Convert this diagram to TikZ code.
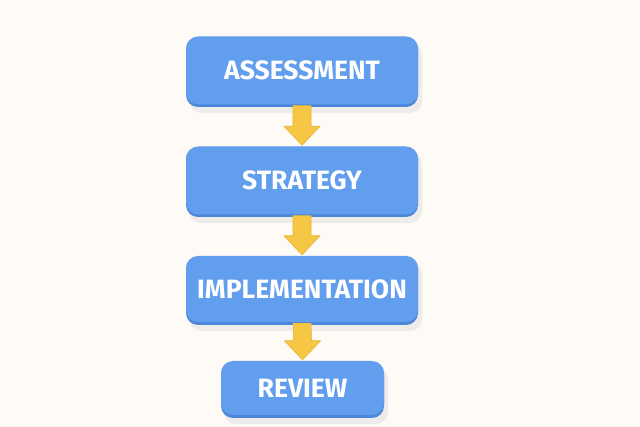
\documentclass[tikz,border=0pt]{standalone}
\usepackage{fontspec}
\setmainfont{Fira Sans}
\usetikzlibrary{calc}
\definecolor{bg}{HTML}{FEFAF6}
\definecolor{boxblue}{HTML}{629EEE}
\definecolor{boxedge}{HTML}{4B86D8}
\definecolor{arrowy}{HTML}{F6C744}
\definecolor{arrowd}{HTML}{E9B232}
\begin{document}
\begin{tikzpicture}[x=1pt,y=-1pt,
  stepbox/.style={fill=boxblue, rounded corners=12pt, inner sep=0pt, text=white,
     font=\fontsize{26.5}{26.5}\selectfont\bfseries},
  flowarrow/.style={fill=arrowy, draw=arrowd, line width=0.6pt, line join=round}]
\fill[bg] (0,0) rectangle (640,427);
\useasboundingbox (0,0) rectangle (640,427);
% shadows
\foreach \a/\b/\c/\d in {186/36/418/107,186/146/418/217,186/256/418/325,221/361/384/418}{
  \fill[black!12, rounded corners=12pt, opacity=0.5] (\a+3,\b+6) rectangle (\c+4,\d+6);
  \fill[boxedge, rounded corners=12pt] (\a,\b+1) rectangle (\c,\d);
}
\node[stepbox, minimum width=232pt, minimum height=68pt] (a) at (302,70.5) {ASSESSMENT};
\node[stepbox, minimum width=232pt, minimum height=68pt] (s) at (302,180.5) {STRATEGY};
\node[stepbox, minimum width=232pt, minimum height=66pt] (i) at (302,289) {IMPLEMENTATION};
\node[stepbox, minimum width=163pt, minimum height=54pt] (r) at (302.5,388) {REVIEW};
% arrows
\foreach \p/\q in {a/s,s/i,i/r}{
  \path (\p.south) coordinate (top) (\q.north) coordinate (tip);
  \fill[flowarrow] ($(top)+(-9,1)$) -- ($(top)+(9,1)$) -- ($(tip)+(9,-20)$) -- ($(tip)+(18,-20)$)
     -- ($(tip)+(0,-1)$) -- ($(tip)+(-18,-20)$) -- ($(tip)+(-9,-20)$) -- cycle;
}
\end{tikzpicture}
\end{document}
